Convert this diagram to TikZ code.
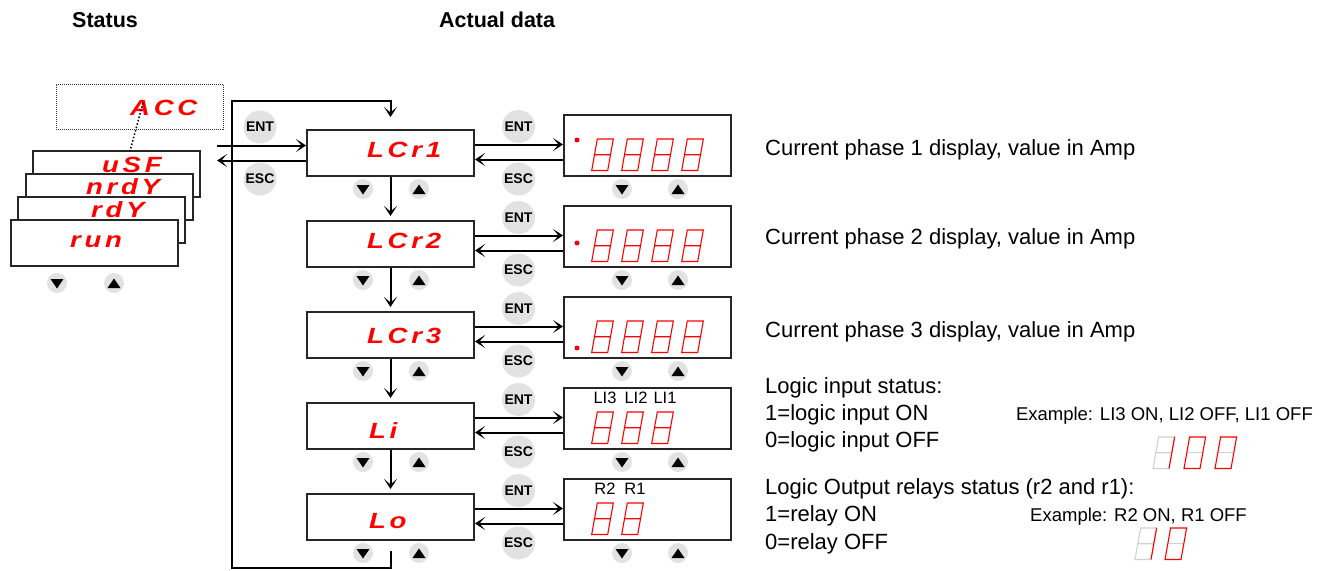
\documentclass[tikz,border=0pt]{standalone}
\usepackage{fontspec}
\setmainfont{Liberation Sans}
\newfontfamily\segf[LetterSpace=17,FakeStretch=1.25]{Liberation Sans}
\usetikzlibrary{arrows.meta,calc}
\definecolor{segred}{RGB}{255,0,0}
\definecolor{btngray}{RGB}{226,226,226}
\definecolor{offgray}{RGB}{208,208,208}
\newcommand\sdig[3]{\draw[#3,line width=1.1pt,line join=miter] (#1,{#2+31.5}) -- ++(5.6,-31.5) -- ++(16,0) -- ++(-5.6,31.5) -- cycle ({#1+2.8},{#2+15.75}) -- ++(16,0);}
\newcommand\sone[2]{\sdig{#1}{#2}{offgray}\draw[segred,line width=1.1pt] ({#1+21.6},#2) -- ({#1+16},{#2+31.5});}
\newcommand\szero[2]{\draw[offgray,line width=1.1pt] ({#1+2.8},{#2+15.75}) -- ++(16,0);\draw[segred,line width=1.1pt,line join=miter] (#1,{#2+31.5}) -- ++(5.6,-31.5) -- ++(16,0) -- ++(-5.6,31.5) -- cycle;}
\begin{document}
\begin{tikzpicture}[x=1pt,y=-1pt,
  lcd/.style={draw=black!85,line width=2pt,fill=white,minimum width=167pt,minimum height=46pt,inner sep=0pt},
  rlcd/.style={lcd,minimum height=61pt},
  code/.style={anchor=base west,inner sep=0pt,text=segred,font=\segf\fontsize{22}{24}\selectfont\bfseries\itshape},
  key/.style={circle,fill=btngray,minimum size=33pt,inner sep=0pt,font=\fontsize{14}{14}\selectfont\bfseries},
  nav/.style={circle,fill=btngray,minimum size=20pt,inner sep=0pt},
  navdn/.style={nav,path picture={\fill[black] ([shift={(-6.5,-4)}]path picture bounding box.center) -- ++(13,0) -- ++(-6.5,9.5) -- cycle;}},
  navup/.style={nav,path picture={\fill[black] ([shift={(-6.5,5)}]path picture bounding box.center) -- ++(13,0) -- ++(-6.5,-9.5) -- cycle;}},
  arr/.style={draw=black,line width=2pt,arrows={-Stealth[length=10pt,width=13pt,inset=5.5pt]}},
  desc/.style={anchor=base west,inner sep=0pt,font=\fontsize{22}{26}\selectfont},
  expl/.style={anchor=base east,inner sep=0pt,font=\fontsize{18.5}{22}\selectfont},
  lbl/.style={inner sep=0pt,font=\fontsize{16.5}{18}\selectfont},
  title/.style={anchor=west,inner sep=0pt,font=\fontsize{21.5}{24}\selectfont\bfseries}]
\useasboundingbox (0,0) rectangle (1327,570);

% titles
\node[title] (tstatus) at (72,20) {Status};
\node[title] (tdata) at (439,20) {Actual data};

% status stack
\node[draw=black!80,densely dotted,line width=1pt,minimum width=167pt,minimum height=45pt,inner sep=0pt] (accbox) at (139.5,106.5) {};
\node[code] (acc) at (130,115) {ACC};
\node[lcd] (usfbox) at (116.5,174) {};
\node[code] (usf) at (102,172) {uSF};
\node[lcd] (nrdybox) at (109,197) {};
\node[code] (nrdy) at (86,194) {nrdY};
\node[lcd] (rdybox) at (101.5,220) {};
\node[code] (rdy) at (91,217) {rdY};
\node[lcd] (runbox) at (94,243) {};
\node[code] (run) at (70,247) {run};
\coordinate (dtop) at (143,103);
\coordinate (dbot) at (130,151);
\draw[dotted,line width=1.5pt] (dtop) -- (dbot);
\node[navdn] (sdn) at (57,283) {};
\node[navup] (sup) at (114,283) {};

% keys
\node[key] (ent0) at (260,127) {ENT};
\node[key] (esc0) at (260,179) {ESC};
\foreach \i/\t in {1/130,2/221,3/312,4/403,5/494}{
  \node[key] (ent\i) at (518.5,\t-3.5) {ENT};
  \node[key] (esc\i) at (518.5,\t+49) {ESC};
  \node[navdn] (ld\i) at (363,\t+59) {};
  \node[navup] (lu\i) at (419,\t+59) {};
  \node[navdn] (rd\i) at (622,\t+59) {};
  \node[navup] (ru\i) at (678,\t+59) {};
}

% left menu column
\node[lcd] (L1) at (390.5,153) {};
\node[lcd] (L2) at (390.5,244) {};
\node[lcd] (L3) at (390.5,335) {};
\node[lcd] (L4) at (390.5,426) {};
\node[lcd] (L5) at (390.5,517) {};
\node[code] (c1) at (367,157) {LCr1};
\node[code] (c2) at (367,248) {LCr2};
\node[code] (c3) at (367,343) {LCr3};
\node[code] (c4) at (369,438) {Li};
\node[code] (c5) at (369,528) {Lo};

% right data column
\node[rlcd] (R1) at (647.5,145.5) {};
\node[rlcd] (R2) at (647.5,236.5) {};
\node[rlcd] (R3) at (647.5,327.5) {};
\node[rlcd] (R4) at (647.5,418.5) {};
\node[rlcd] (R5) at (647.5,509.5) {};

\fill[segred] (577,140) circle (2.5);
\fill[segred] (577,243) circle (2.5);
\fill[segred] (577,348) circle (2.5);
\foreach \y in {139,230,321}{
  \foreach \x in {591.7,621.7,651.7,681.7}{\sdig{\x}{\y}{segred}}
}
\foreach \x in {591.7,621.7,651.7}{\sdig{\x}{412}{segred}}
\foreach \x in {591.7,621.7}{\sdig{\x}{503}{segred}}
\node[lbl] (li3) at (605,398) {LI3};
\node[lbl] (li2) at (636,398) {LI2};
\node[lbl] (li1) at (665,398) {LI1};
\node[lbl] (r2) at (605,489) {R2};
\node[lbl] (r1) at (635,489) {R1};

% connectors
\coordinate (inl) at (217,145.5);
\coordinate (outl) at (217,160.5);
\draw[arr] (inl) -- (inl -| L1.west);
\draw[arr] (outl -| L1.west) -- (outl);
\foreach \i in {1,...,5}{
  \path ([yshift=-15.5pt]L\i.north east) coordinate (e\i) ([yshift=-30.5pt]L\i.north east) coordinate (s\i);
  \draw[arr] (e\i) -- (e\i -| R\i.west);
  \draw[arr] (s\i -| R\i.west) -- (s\i);
}
\draw[arr] (L1.south) -- ([yshift=4pt]L2.north);
\draw[arr] (L2.south) -- ([yshift=4pt]L3.north);
\draw[arr] (L3.south) -- ([yshift=4pt]L4.north);
\draw[arr] (L4.south) -- ([yshift=4pt]L5.north);
\coordinate (lpb) at (232,568);
\coordinate (lpt) at (232,101);
\draw[arr] ([yshift=-10pt]L5.south) |- (lpb) -- (lpt) -| ([yshift=12pt]L1.north);

% descriptions
\node[desc] (d1) at (765,155.5) {Current phase 1 display, value in Amp};
\node[desc] (d2) at (765,244.5) {Current phase 2 display, value in Amp};
\node[desc] (d3) at (765,337.5) {Current phase 3 display, value in Amp};
\node[desc] (d4) at (765,393.5) {Logic input status:};
\node[desc] (d5) at (765,420.5) {1=logic input ON};
\node[desc] (d6) at (765,447.5) {0=logic input OFF};
\node[desc] (d7) at (765,494.5) {Logic Output relays status (r2 and r1):};
\node[desc] (d8) at (765,521.5) {1=relay ON};
\node[desc] (d9) at (765,549.5) {0=relay OFF};
\node[expl] (x1) at (1313,420.5) {Example: LI3 ON, LI2 OFF, LI1 OFF};
\node[expl] (x2) at (1247,521.5) {Example: R2 ON, R1 OFF};
\sone{1153}{437}
\szero{1184}{437}
\szero{1215}{437}
\sone{1135}{528}
\szero{1165}{528}
\end{tikzpicture}
\end{document}
